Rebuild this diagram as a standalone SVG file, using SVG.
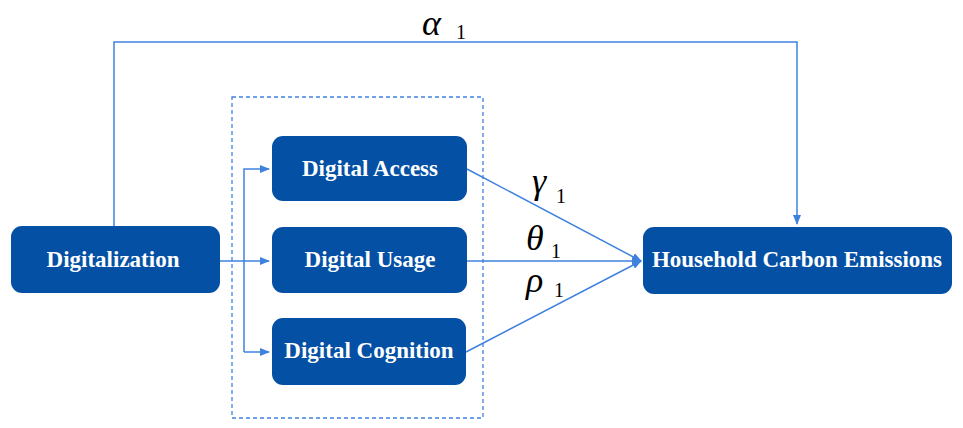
<svg xmlns="http://www.w3.org/2000/svg" width="963" height="428" viewBox="0 0 963 428">
<style>
.box{fill:#0450a4}
.lbl{font-family:"Liberation Serif","Times New Roman",serif;font-weight:bold;font-size:23px;fill:#fff;text-anchor:middle}
.ln{stroke:#3f82de;stroke-width:1.5;fill:none}
.gr{font-family:"Liberation Serif","Times New Roman",serif;font-style:italic;font-size:36px;fill:#000}
.sub{font-family:"Liberation Serif","Times New Roman",serif;font-size:20px;fill:#000}
</style>
<defs>
<marker id="ah" markerWidth="10" markerHeight="8" refX="9" refY="4" orient="auto" markerUnits="userSpaceOnUse">
<path d="M0,0 L10,4 L0,8 Z" fill="#3f82de"/>
</marker>
</defs>
<rect x="0" y="0" width="963" height="428" fill="#fff"/>
<g id="mediator-frame">
<rect x="232" y="97" width="251" height="321" fill="none" stroke="#3f82de" stroke-width="1.3" stroke-dasharray="4,3"/>
</g>
<g id="connectors">
<path class="ln" d="M114,227 V42 H797 V224" marker-end="url(#ah)"/>
<path class="ln" d="M220,261 H269" marker-end="url(#ah)"/>
<path class="ln" d="M244,352 V169 H269" marker-end="url(#ah)"/>
<path class="ln" d="M244,352 H269" marker-end="url(#ah)"/>
<path class="ln" d="M467,169 L641,261" marker-end="url(#ah)"/>
<path class="ln" d="M467,261 L641,261" marker-end="url(#ah)"/>
<path class="ln" d="M466,352 L641,261" marker-end="url(#ah)"/>
</g>
<g id="labels">
<text class="gr" x="422" y="35">α</text><text class="sub" x="456" y="39">1</text>
<text class="gr" x="532" y="193">γ</text><text class="sub" x="556" y="203">1</text>
<text class="gr" x="526" y="250">θ</text><text class="sub" x="551" y="258">1</text>
<text class="gr" x="526" y="292">ρ</text><text class="sub" x="554" y="297">1</text>
</g>
<g id="digitalization">
<rect class="box" x="11" y="226" width="209" height="67" rx="11"/>
<text class="lbl" x="113" y="267">Digitalization</text>
</g>
<g id="digital-access">
<rect class="box" x="272" y="136" width="195" height="65" rx="11"/>
<text class="lbl" x="370" y="176">Digital Access</text>
</g>
<g id="digital-usage">
<rect class="box" x="272" y="227" width="195" height="66" rx="11"/>
<text class="lbl" x="370" y="267">Digital Usage</text>
</g>
<g id="digital-cognition">
<rect class="box" x="272" y="318" width="194" height="67" rx="11"/>
<text class="lbl" x="369" y="358">Digital Cognition</text>
</g>
<g id="household-carbon-emissions">
<rect class="box" x="643" y="227" width="309" height="67" rx="11"/>
<text class="lbl" x="797" y="267">Household Carbon Emissions</text>
</g>
</svg>
